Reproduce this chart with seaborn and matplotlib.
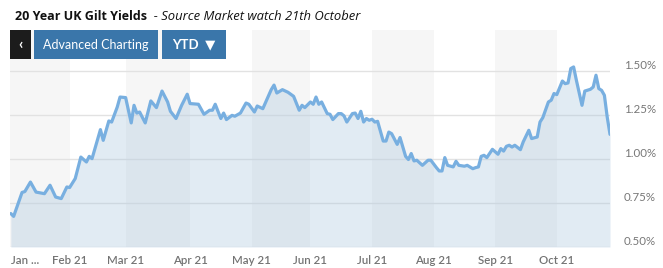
import numpy as np
import pandas as pd
import matplotlib
matplotlib.use("Agg")
import matplotlib.pyplot as plt
import seaborn as sns
from matplotlib.patches import Rectangle

# ---------------- data ----------------
# business-day number counted from 1 Jan 2021
day = [0, 1, 4, 5, 7, 9, 12, 14, 16, 18, 20, 21, 23, 25, 27, 28, 29, 32, 33, 35,
       36, 38, 39, 41, 43, 44, 45, 46, 48, 50, 52, 54, 56, 57, 59, 61, 63, 64, 67, 69,
       71, 72, 73, 75, 76, 77, 79, 80, 82, 84, 85, 87, 88, 90, 93, 94, 95, 97, 99, 101,
       103, 104, 105, 107, 108, 109, 110, 111, 113, 114, 115, 117, 118, 119, 120, 122, 123, 124, 125, 126,
       127, 128, 129, 130, 131, 133, 134, 135, 136, 138, 139, 141, 142, 143, 144, 145, 147, 149, 150, 152,
       153, 154, 155, 156, 158, 159, 160, 162, 163, 165, 166, 167, 168, 169, 170, 172, 174, 175, 176, 177,
       178, 179, 180, 182, 183, 185, 186, 188, 189, 190, 192, 193, 194, 195, 197, 198, 199, 200, 201, 202,
       204, 205, 207, 208, 209, 210, 211, 212, 213, 214]
yield_pct = [0.690, 0.674, 0.810, 0.815, 0.869, 0.812, 0.803, 0.851, 0.784, 0.775, 0.841, 0.838, 0.889, 1.011, 0.983, 1.015, 1.002, 1.167, 1.106, 1.216,
             1.210, 1.295, 1.352, 1.349, 1.205, 1.305, 1.261, 1.267, 1.205, 1.330, 1.292, 1.386, 1.324, 1.271, 1.230, 1.305, 1.368, 1.315, 1.311, 1.254,
             1.277, 1.277, 1.311, 1.230, 1.261, 1.224, 1.248, 1.243, 1.261, 1.318, 1.311, 1.267, 1.301, 1.286, 1.394, 1.420, 1.375, 1.394, 1.379, 1.356,
             1.277, 1.305, 1.292, 1.324, 1.311, 1.352, 1.311, 1.324, 1.258, 1.254, 1.224, 1.258, 1.258, 1.245, 1.210, 1.258, 1.261, 1.230, 1.271, 1.210,
             1.230, 1.220, 1.226, 1.210, 1.214, 1.102, 1.102, 1.153, 1.144, 1.083, 1.122, 1.015, 0.997, 1.031, 0.989, 0.993, 0.964, 0.993, 0.993, 0.951,
             0.932, 0.932, 1.008, 0.964, 0.955, 0.987, 0.964, 0.959, 0.964, 0.945, 0.951, 0.955, 1.015, 1.021, 1.008, 1.055, 1.027, 1.059, 1.045, 1.072,
             1.078, 1.068, 1.078, 1.053, 1.097, 1.163, 1.116, 1.125, 1.210, 1.235, 1.324, 1.334, 1.372, 1.366, 1.443, 1.428, 1.432, 1.514, 1.523, 1.447,
             1.305, 1.386, 1.396, 1.409, 1.476, 1.400, 1.390, 1.362, 1.239, 1.140]

month_starts = ["2021-01-01", "2021-02-01", "2021-03-01", "2021-04-01", "2021-05-01",
                "2021-06-01", "2021-07-01", "2021-08-01", "2021-09-01", "2021-10-01"]
month_labels = ["Jan ...", "Feb 21", "Mar 21", "Apr 21", "May 21",
                "Jun 21", "Jul 21", "Aug 21", "Sep 21", "Oct 21"]
y_ticks = [0.50, 0.75, 1.00, 1.25, 1.50]

title_main = "20 Year UK Gilt Yields"
title_sub = "  - Source Market watch 21th October"
btn_back = "‹"
btn_chart = "Advanced Charting"
btn_range = "YTD  ▼"

# ---------------- figure ----------------
sns.set_style("white")
plt.rcParams["font.family"] = ["Lato", "DejaVu Sans"]

W, H = 663, 268
fig = plt.figure(figsize=(W / 100, H / 100), dpi=100)
fig.patch.set_facecolor("white")

def fx(x):
    return x / W

def fy(y):
    return 1 - y / H

ax_l, ax_r, ax_t, ax_b = 10, 610, 30, 247
ax = fig.add_axes([fx(ax_l), fy(ax_b), (ax_r - ax_l) / W, (ax_b - ax_t) / H])
ax.set_facecolor("white")

df = pd.DataFrame({"day": day, "yield": yield_pct})
tick_pos = np.busday_count("2021-01-01", np.array(month_starts, dtype="datetime64[D]"))

xmin, xmax = -0.3, 214
ymin = 0.5
ymax = 0.5 + (ax_b - ax_t) / 176.0

# alternating month bands
edges = list(tick_pos) + [xmax]
for i in range(len(tick_pos)):
    if i % 2 == 0:
        ax.axvspan(edges[i] if i > 0 else xmin, edges[i + 1], color="#f6f6f6", lw=0, zorder=0)

ax.fill_between(df["day"], df["yield"], ymin, color="#a9c6de", alpha=0.35, lw=0, zorder=2)
sns.lineplot(data=df, x="day", y="yield", ax=ax, color="#78afe0", lw=2.3, zorder=3)

ax.set_xlim(xmin, xmax)
ax.set_ylim(ymin, ymax)
ax.set_xlabel("")
ax.set_ylabel("")
for s in ax.spines.values():
    s.set_visible(False)

ax.set_yticks(y_ticks)
ax.yaxis.tick_right()
ax.set_yticklabels([f"{v:.2f}%" for v in y_ticks])
ax.grid(axis="y", color="#e2e2e2", lw=1, zorder=1)
ax.tick_params(axis="y", length=0, pad=10, labelsize=8.3, labelcolor="#777777")
for lab in ax.get_yticklabels():
    lab.set_verticalalignment("bottom")

ax.set_xticks(tick_pos)
ax.set_xticklabels(month_labels)
ax.tick_params(axis="x", length=3, width=1, color="#b5d0e6", pad=3, labelsize=8.3, labelcolor="#737373")
for lab in ax.get_xticklabels():
    lab.set_fontweight("semibold")
ax.get_xticklabels()[0].set_horizontalalignment("left")

# ---------------- title ----------------
t1 = fig.text(fx(15), fy(20), title_main, fontsize=9.0, fontweight="bold",
              color="#111111", family=["Open Sans", "DejaVu Sans"], va="baseline", ha="left")
fig.canvas.draw()
bb = t1.get_window_extent()
fig.text(bb.x1 / W, fy(20), title_sub, fontsize=9.4, fontstyle="italic",
         color="#111111", family=["Open Sans", "DejaVu Sans"], va="baseline", ha="left")

# ---------------- buttons ----------------
def button(x0, x1, color, label, weight="normal", size=9.5):
    fig.patches.append(Rectangle((fx(x0), fy(59)), (x1 - x0) / W, 29 / H,
                                 transform=fig.transFigure, facecolor=color,
                                 edgecolor="none", zorder=5))
    fig.text(fx((x0 + x1) / 2), fy(44.5), label, color="white", fontsize=size,
             fontweight=weight, ha="center", va="center", zorder=6)

button(10, 31, "#1c1c1c", btn_back, weight="bold", size=11)
button(34, 158, "#3a76aa", btn_chart, size=9.0)
button(162, 226, "#3a76aa", btn_range, weight="bold", size=9.5)

fig.savefig("out.png", dpi=100, facecolor="white")
